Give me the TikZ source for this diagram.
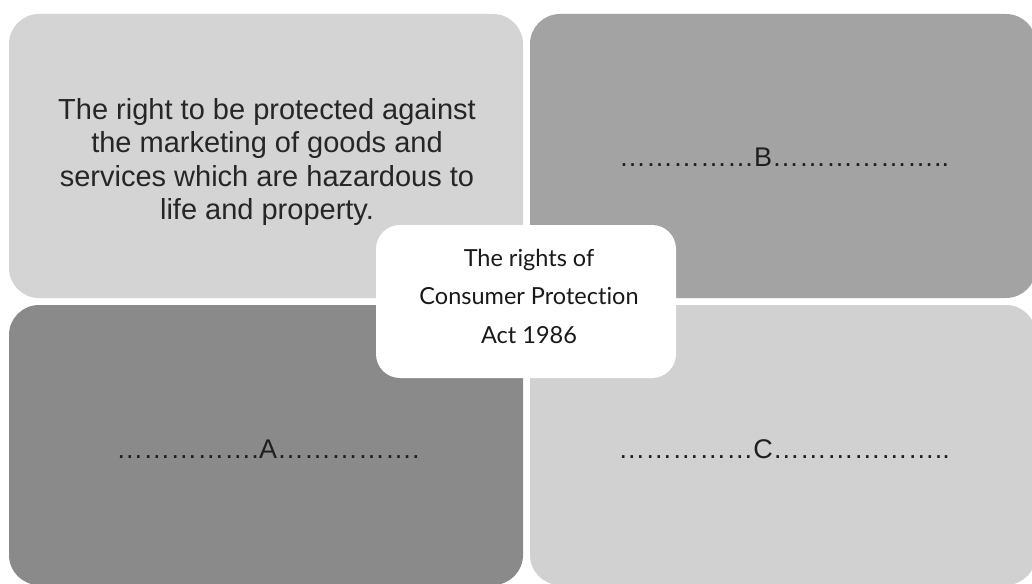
\documentclass[tikz,border=0pt]{standalone}
\usepackage{fontspec}
\setmainfont{Liberation Sans}
\newfontfamily\centrefont[Ligatures=NoCommon]{Lato}
\begin{document}
\begin{tikzpicture}[x=1pt,y=-1pt,
  tile/.style={rounded corners=30pt, inner sep=0pt, draw=none},
  hub/.style={rounded corners=24pt, fill=white, inner sep=0pt,
    minimum width=300pt, minimum height=153pt},
  blank/.style={anchor=base, text=black!88, font=\fontsize{27}{33}\selectfont, inner sep=0pt}]
  \useasboundingbox (0,0) rectangle (1032,583);
  \begin{scope}
    \clip (0,0) rectangle (1032,583);
    % four quadrant tiles
    \node[tile, fill=black!17, minimum width=514pt, minimum height=284pt] (tl) at (266,156) {};
    \node[tile, fill=black!36, minimum width=506pt, minimum height=284pt] (tr) at (783,156) {};
    \node[tile, fill=black!46, minimum width=514pt, minimum height=280pt] (bl) at (266,445) {};
    \node[tile, fill=black!18, minimum width=506pt, minimum height=280pt] (br) at (783,445) {};
  \end{scope}
  % statement of the first right
  \node[align=center, text=black!85, inner sep=0pt,
        font=\fontsize{29}{33.5}\selectfont] (stmt) at (267,162)
    {The right to be protected against\\the marketing of goods and\\services which are hazardous to\\life and property.};
  % blanks to be filled in
  \node[blank] (lb) at (784,166) {……………B………………..};
  \node[blank] (la) at (268,458) {…………….A…………….};
  \node[blank] (lc) at (784,458) {……………C………………..};
  % central title
  \node[hub] (hub) at (526,301.5) {};
  \node[align=center, inner sep=0pt, text=black!90,
        font=\centrefont\fontsize{23.5}{38.5}\selectfont] (title) at (529,296)
    {The rights of\\Consumer Protection\\Act 1986};
\end{tikzpicture}
\end{document}
